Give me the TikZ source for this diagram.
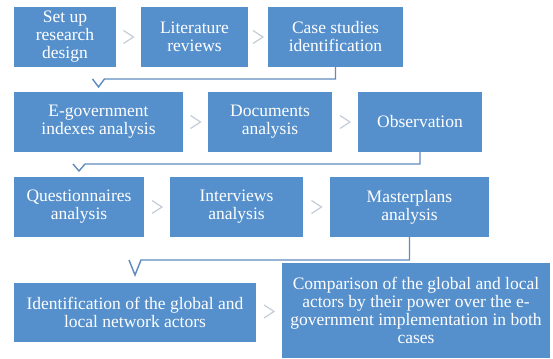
\documentclass[tikz,border=0pt]{standalone}
\usepackage{fontspec}
\setmainfont{Liberation Serif}
\newfontfamily\stepfont{Liberation Serif}
\usepackage{xcolor}
\usepackage{tikz}
\usetikzlibrary{arrows.meta,positioning,calc}
\definecolor{stepBlue}{HTML}{5590CC}
\definecolor{linkBlue}{HTML}{5F8BBF}
\definecolor{chevGrey}{HTML}{C4CCD8}

\begin{document}
\begin{tikzpicture}[
  x=1pt, y=1pt,
  box/.style={fill=stepBlue, draw=none, text=white, align=center,
    inner sep=2pt, outer sep=0pt, minimum height=60pt,
    font=\stepfont\fontsize{17.5}{18}\selectfont},
  link/.style={line width=1.4pt, draw=linkBlue, line join=miter},
  chev/.style={line width=1.2pt, draw=chevGrey}
]
  \useasboundingbox (0,0) rectangle (553,358);
  \node[box,minimum width=102pt] (setup) at (65,321) {Set up\\research\\design};
  \node[box,minimum width=107pt,right=25pt of setup] (lit) {Literature\\reviews};
  \node[box,minimum width=135pt,right=20pt of lit] (cases) {Case studies\\identification};
  \node[box,minimum width=169pt,below=25pt of setup.south west,anchor=north west] (egov) {E-government\\indexes analysis};
  \node[box,minimum width=124pt,right=25pt of egov] (docs) {Documents\\analysis};
  \node[box,minimum width=124pt,right=26pt of docs] (obs) {Observation};
  \node[box,minimum width=130pt,below=25pt of egov.south west,anchor=north west] (quest) {Questionnaires\\analysis};
  \node[box,minimum width=133pt,right=26pt of quest] (interv) {Interviews\\analysis};
  \node[box,minimum width=159pt,right=27pt of interv] (master) {Masterplans\\analysis};
  \node[box,minimum width=242pt,minimum height=59pt,below=46pt of quest.south west,anchor=north west] (ident) {Identification of the global and\\local network actors};
  \node[box,minimum width=268pt,minimum height=95pt,right=26pt of ident,yshift=2pt] (comp) {Comparison of the global and local\\actors by their power over the e-\\government implementation in both\\cases};
  \foreach \a/\b in {setup/lit,lit/cases,egov/docs,docs/obs,quest/interv,interv/master,ident/comp}
    \draw[chev] ($(\a.east)!.5!(\b.west)$) ++(-5,6.5) -- ++(10,-6.5) -- ++(-10,-6.5);
  \draw[link] (cases.south) |- ([xshift=6pt,yshift=13pt]egov.north) -- ([yshift=5pt]egov.north) -- ([xshift=-6pt,yshift=13pt]egov.north);
  \draw[link] (obs.south) |- ([xshift=6pt,yshift=13pt]quest.north) -- ([yshift=6pt]quest.north) -- ([xshift=-6pt,yshift=13pt]quest.north);
  \draw[link] (master.south) |- ([xshift=6pt,yshift=23pt]ident.north) -- ([yshift=8pt]ident.north) -- ([xshift=-6pt,yshift=23pt]ident.north);
\end{tikzpicture}
\end{document}
